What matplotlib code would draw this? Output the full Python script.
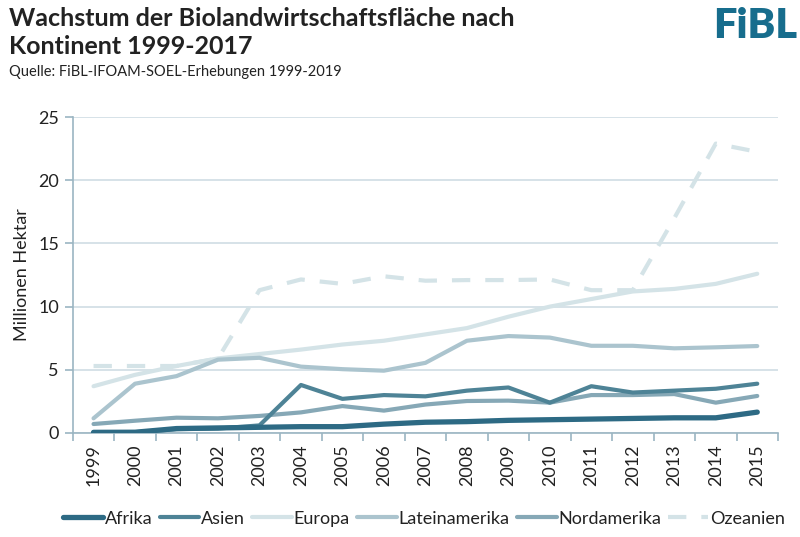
import matplotlib
matplotlib.use("Agg")
import matplotlib.pyplot as plt
from matplotlib.ticker import FixedLocator

plt.rcParams['font.family'] = ['Lato', 'DejaVu Sans']

years = [str(y) for y in range(1999, 2016)]
afrika = [0.05, 0.06, 0.35, 0.4, 0.45, 0.5, 0.5, 0.7, 0.85, 0.9, 1.0, 1.05, 1.1, 1.15, 1.2, 1.2, 1.65]
asien = [0.05, 0.06, 0.3, 0.35, 0.6, 3.8, 2.7, 3.0, 2.9, 3.35, 3.6, 2.4, 3.7, 3.2, 3.35, 3.5, 3.9]
europa = [3.7, 4.6, 5.3, 5.9, 6.25, 6.6, 7.0, 7.3, 7.8, 8.3, 9.2, 10.0, 10.6, 11.2, 11.4, 11.8, 12.6]
lateinamerika = [1.16, 3.9, 4.5, 5.8, 5.95, 5.25, 5.05, 4.93, 5.55, 7.3, 7.67, 7.55, 6.9, 6.9, 6.7, 6.78, 6.88]
nordamerika = [0.71, 0.97, 1.21, 1.16, 1.35, 1.63, 2.13, 1.77, 2.25, 2.53, 2.56, 2.4, 3.0, 3.0, 3.08, 2.4, 2.93]
ozeanien = [5.3, 5.3, 5.3, 5.9, 11.3, 12.15, 11.8, 12.4, 12.05, 12.1, 12.1, 12.15, 11.3, 11.3, 17.0, 22.9, 22.25]

series = [
    ("Afrika", afrika, "#2d6a84", 3.8, "-"),
    ("Asien", asien, "#4e8396", 3.0, "-"),
    ("Europa", europa, "#d4e3e7", 3.0, "-"),
    ("Lateinamerika", lateinamerika, "#abc4ce", 3.0, "-"),
    ("Nordamerika", nordamerika, "#86a8b6", 3.0, "-"),
    ("Ozeanien", ozeanien, "#d4e3e7", 3.0, (0, (4.4, 3.6))),
]

fig = plt.figure(figsize=(8, 5.37), dpi=100)
ax = fig.add_axes([0.091, 0.1937, 0.8815, 0.5883])

x = list(range(len(years)))
draw_order = [5, 2, 3, 4, 1, 0]
lines = {}
for i in draw_order:
    name, vals, col, lw, ls = series[i]
    ln, = ax.plot(x, vals, color=col, lw=lw, ls=ls, solid_capstyle='round',
                  dash_capstyle='butt', solid_joinstyle='round', label=name, zorder=3)
    lines[i] = ln

ax.set_xlim(-0.5, len(years) - 0.5)
ax.set_ylim(0, 25)
ax.set_yticks([0, 5, 10, 15, 20, 25])
ax.yaxis.grid(True, color="#cfdde4", lw=1.2)
ax.set_axisbelow(True)

axcol = "#9bb5c2"
for s in ['top', 'right']:
    ax.spines[s].set_visible(False)
ax.spines['left'].set_color(axcol)
ax.spines['bottom'].set_color(axcol)
ax.spines['left'].set_linewidth(1.2)
ax.spines['bottom'].set_linewidth(1.2)

ax.set_xticks(x)
ax.set_xticklabels(years, rotation=90, fontsize=13, color="#222222")
ax.tick_params(axis='x', which='major', length=0, pad=8)
ax.xaxis.set_minor_locator(FixedLocator([i - 0.5 for i in range(len(years) + 1)]))
ax.tick_params(axis='x', which='minor', length=6, color=axcol, width=1.2)
ax.tick_params(axis='y', length=6, color=axcol, width=1.2, labelsize=13, labelcolor="#222222", pad=4)
ax.set_ylabel("Millionen Hektar", fontsize=13, color="#222222", labelpad=6)

leg = fig.legend([lines[i] for i in range(6)], [s[0] for s in series],
                 loc='center', bbox_to_anchor=(0.53, 0.034), ncol=6, frameon=False,
                 fontsize=13, handlelength=2.2, handletextpad=0.1, columnspacing=0.4)
for t in leg.get_texts():
    t.set_color("#222222")

fig.text(0.011, 1 - 19 / 537, "Wachstum der Biolandwirtschaftsfläche nach",
         fontsize=18, fontweight='bold', va='center', ha='left', color="#222222")
fig.text(0.011, 1 - 47 / 537, "Kontinent 1999-2017",
         fontsize=18, fontweight='bold', va='center', ha='left', color="#222222")
fig.text(0.011, 1 - 72 / 537, "Quelle: FiBL-IFOAM-SOEL-Erhebungen 1999-2019", fontsize=10.5,
         va='center', ha='left', color="#222222")
fig.text(0.997, 1 - 26 / 537, "FiBL", fontsize=30, fontweight='heavy', color="#176d8d",
         va='center', ha='right')

fig.savefig("out.png", dpi=100)
